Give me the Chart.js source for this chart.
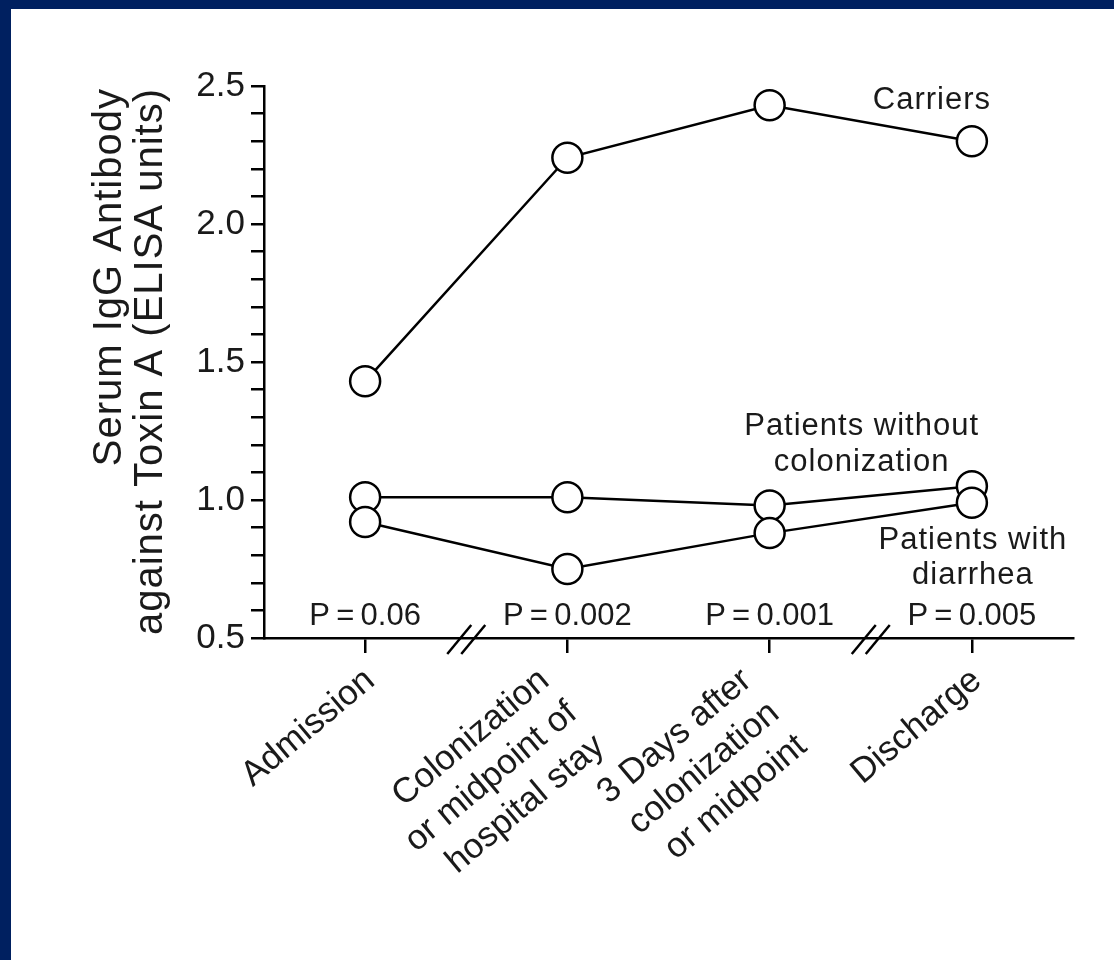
<!DOCTYPE html>
<html lang="en">
<head>
    <meta charset="UTF-8">
    <title>Serum IgG Antibody against Toxin A</title>
    <script src="https://cdn.jsdelivr.net/npm/chart.js"></script>
    <style>
        * { margin: 0; padding: 0; box-sizing: border-box; }
        body {
            width: 1114px;
            height: 960px;
            background: #fff;
            position: relative;
            overflow: hidden;
            font-family: 'Liberation Sans', Arial, sans-serif;
        }
        #chart { position: absolute; left: 0; top: 0; }
        .edge { position: absolute; background: #002060; }
        .edge.top { left: 0; top: 0; width: 1114px; height: 9px; }
        .edge.left { left: 0; top: 0; width: 11px; height: 960px; }
    </style>
</head>
<body>
    <canvas id="chart" width="1114" height="960"></canvas>
    <div class="edge top"></div>
    <div class="edge left"></div>

    <script>
        // data
        const categories = [
            ['Admission'],
            ['Colonization', 'or midpoint of', 'hospital stay'],
            ['3 Days after', 'colonization', 'or midpoint'],
            ['Discharge']
        ];
        const carriers = [1.43, 2.24, 2.43, 2.30];
        const withDiarrhea = [0.92, 0.75, 0.88, 0.99];
        const withoutColonization = [1.01, 1.01, 0.98, 1.05];
        const pValues = ['P\u2009=\u20090.06', 'P\u2009=\u20090.002', 'P\u2009=\u20090.001', 'P\u2009=\u20090.005'];
        const yTitle = ['Serum IgG Antibody', 'against Toxin A (ELISA units)'];

        const FONT = "'Liberation Sans', Arial, sans-serif";
        const INK = '#1a1a1a';
        const LABEL_ANGLE = 40 * Math.PI / 180;

        function series(values) {
            return {
                data: values,
                borderColor: '#000',
                borderWidth: 2.5,
                pointRadius: 15,
                pointHoverRadius: 15,
                pointBorderWidth: 2.5,
                pointBackgroundColor: '#fff',
                pointBorderColor: '#000',
                tension: 0,
                clip: false
            };
        }

        const extras = {
            id: 'extras',
            afterDraw(chart) {
                const ctx = chart.ctx;
                const x = chart.scales.x;
                const y = chart.scales.y;
                ctx.save();
                ctx.fillStyle = INK;

                // y-axis title, two lines ending near the top of the axis
                ctx.save();
                ctx.letterSpacing = '1px';
                ctx.translate(110, 88);
                ctx.rotate(-Math.PI / 2);
                ctx.font = '40px ' + FONT;
                ctx.textAlign = 'right';
                ctx.textBaseline = 'middle';
                ctx.fillText(yTitle[0], 0, 0);
                ctx.fillText(yTitle[1], 0, 41);
                ctx.restore();

                // category labels, slanted, block centred under its tick
                ctx.font = '35px ' + FONT;
                ctx.textAlign = 'right';
                ctx.textBaseline = 'middle';
                const lh = 43;
                const sx = lh * Math.sin(LABEL_ANGLE);
                const sy = lh * Math.cos(LABEL_ANGLE);
                categories.forEach((lines, i) => {
                    const tx = x.getPixelForValue(i);
                    const n = lines.length;
                    lines.forEach((line, k) => {
                        ctx.save();
                        ctx.translate(tx + 5 + (k - (n - 1) / 2) * sx, y.bottom + 38 + k * sy);
                        ctx.rotate(-LABEL_ANGLE);
                        ctx.fillText(line, 0, 0);
                        ctx.restore();
                    });
                });

                ctx.textAlign = 'center';
                ctx.textBaseline = 'middle';

                // P values above the x axis
                ctx.font = '31px ' + FONT;
                pValues.forEach((p, i) => {
                    ctx.fillText(p, x.getPixelForValue(i), y.bottom - 22);
                });

                // series labels
                ctx.letterSpacing = '1px';
                const x2 = x.getPixelForValue(2);
                const x3 = x.getPixelForValue(3);
                ctx.fillText('Carriers', x3 - 40, 100);
                ctx.fillText('Patients without', x2 + 92, 426);
                ctx.fillText('colonization', x2 + 92, 462);
                ctx.fillText('Patients with', x3 + 1, 540);
                ctx.fillText('diarrhea', x3 + 1, 575);

                // axis break marks
                ctx.strokeStyle = '#000';
                ctx.lineWidth = 2.5;
                const yb = y.bottom + 1;
                [[0, 1], [2, 3]].forEach(([a, b]) => {
                    const xm = (x.getPixelForValue(a) + x.getPixelForValue(b)) / 2;
                    [-7, 7].forEach(off => {
                        ctx.beginPath();
                        ctx.moveTo(xm + off - 12, yb + 15);
                        ctx.lineTo(xm + off + 12, yb - 14);
                        ctx.stroke();
                    });
                });
                ctx.restore();
            }
        };

        new Chart(document.getElementById('chart'), {
            type: 'line',
            data: {
                labels: categories,
                datasets: [series(carriers), series(withDiarrhea), series(withoutColonization)]
            },
            options: {
                responsive: false,
                animation: false,
                events: [],
                layout: { padding: { top: 86, right: 41, left: 0, bottom: 0 } },
                plugins: { legend: { display: false }, tooltip: { enabled: false } },
                scales: {
                    x: {
                        offset: true,
                        afterFit(scale) { scale.height = 322; },
                        border: { display: true, color: '#000', width: 2.5 },
                        grid: { drawOnChartArea: false, drawTicks: true, tickLength: 15, color: '#000', lineWidth: 2.5 },
                        ticks: { display: false, autoSkip: false }
                    },
                    y: {
                        min: 0.5,
                        max: 2.5,
                        afterFit(scale) { scale.width = 264; },
                        border: { display: true, color: '#000', width: 2.5 },
                        grid: { drawOnChartArea: false, drawTicks: true, tickLength: 13, color: '#000', lineWidth: 2.5 },
                        ticks: {
                            stepSize: 0.1,
                            autoSkip: false,
                            color: INK,
                            font: { family: FONT, size: 35 },
                            padding: 6,
                            callback(v) {
                                return Math.abs(v * 2 - Math.round(v * 2)) < 1e-6 ? v.toFixed(1) : '';
                            }
                        }
                    }
                }
            },
            plugins: [extras]
        });
    </script>
</body>
</html>
